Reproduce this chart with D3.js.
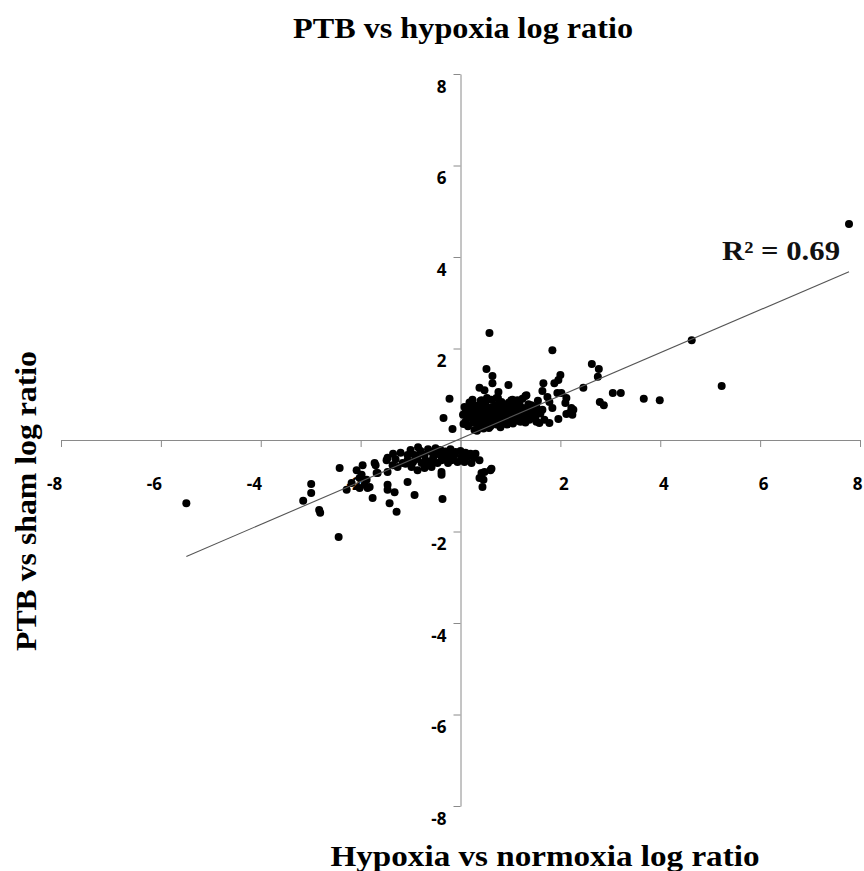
<!DOCTYPE html>
<html>
<head>
<meta charset="utf-8">
<script src="https://cdn.jsdelivr.net/npm/d3@7"></script>
<style>
  html, body { margin: 0; padding: 0; background: #fff; }
  svg { display: block; }
</style>
</head>
<body>
<script>
// ---------------- DATA ----------------
const chartTitle = "PTB vs hypoxia log ratio";
const xTitle = "Hypoxia vs normoxia log ratio";
const yTitle = "PTB vs sham log ratio";
const tickValues = [-8, -6, -4, -2, 0, 2, 4, 6, 8];
const rSquaredLabel = "R\u00B2 = 0.69";
const trendSlope = 0.469;
const trendIntercept = 0.03;

// [hypoxia vs normoxia, PTB vs sham]
const outliers = [
  [7.78, 4.72], [4.63, 2.18], [5.23, 1.18], [3.99, 0.87], [3.67, 0.90],
  [-5.49, -1.38], [0.58, 2.34], [1.84, 1.96], [-2.44, -2.12]
];

const upperSparse = [
  [2.63, 1.66], [2.77, 1.55], [2.75, 1.38], [2.46, 1.14], [3.05, 1.03], [3.21, 1.03],
  [2.79, 0.83], [2.87, 0.76], [0.52, 1.55], [0.64, 1.40], [0.64, 1.24], [0.96, 1.20],
  [0.38, 1.14], [0.48, 1.09], [0.76, 1.05], [-0.22, 0.90], [-0.34, 0.48], [-0.16, 0.24],
  [2.00, 1.42], [1.96, 1.31], [1.66, 1.24], [1.88, 1.24], [1.64, 1.07], [1.94, 1.03],
  [2.02, 1.03], [2.12, 0.92], [2.10, 0.81], [2.22, 0.70], [2.26, 0.66], [2.12, 0.57],
  [1.96, 0.46], [2.24, 0.55], [1.78, 0.83], [1.84, 0.70], [1.64, 0.66], [1.52, 0.72],
  [1.42, 0.76], [1.48, 0.55], [1.68, 0.44], [1.78, 0.37], [1.58, 0.37], [1.38, 0.44],
  [1.74, 0.94], [0.72, 0.92], [0.82, 0.83], [0.42, 0.87], [1.30, 0.96], [1.14, 0.87],
  [1.02, 0.87], [1.32, 0.98], [2.18, 0.59]
];

const upperCluster = [
  [0.05,0.55],[0.08,0.72],[0.10,0.40],[0.12,0.62],[0.15,0.30],[0.18,0.82],[0.20,0.50],
  [0.22,0.68],[0.25,0.38],[0.26,0.58],[0.28,0.22],[0.30,0.75],[0.32,0.45],[0.34,0.64],
  [0.36,0.30],[0.38,0.52],[0.40,0.85],[0.42,0.42],[0.44,0.66],[0.46,0.25],[0.48,0.56],
  [0.50,0.78],[0.52,0.36],[0.54,0.60],[0.55,0.48],[0.58,0.70],[0.60,0.30],[0.62,0.88],
  [0.63,0.52],[0.65,0.40],[0.67,0.64],[0.70,0.76],[0.72,0.34],[0.74,0.55],[0.76,0.45],
  [0.78,0.68],[0.80,0.28],[0.82,0.60],[0.84,0.80],[0.86,0.50],[0.88,0.38],[0.90,0.70],
  [0.92,0.58],[0.95,0.44],[0.97,0.82],[1.00,0.52],[1.02,0.66],[1.05,0.36],[1.08,0.74],
  [1.10,0.55],[1.12,0.46],[1.15,0.62],[1.18,0.80],[1.20,0.40],[1.22,0.58],[1.25,0.70],
  [1.28,0.50],[1.30,0.38],[1.33,0.64],[1.36,0.78],[1.40,0.55],[1.45,0.62],[1.50,0.48],
  [1.55,0.86],[1.60,0.58],[0.06,0.35],[0.14,0.48],[0.24,0.88],[0.33,0.20],[0.40,0.62],
  [0.47,0.40],[0.53,0.92],[0.57,0.26],[0.64,0.72],[0.69,0.46],[0.75,0.92],[0.79,0.52],
  [0.85,0.66],[0.93,0.34],[0.99,0.74],[1.04,0.88],[1.07,0.48],[1.13,0.70],[1.19,0.52],
  [1.24,0.90],[1.27,0.42],[1.35,0.46],[1.42,0.72],[1.48,0.64],[1.52,0.40],[0.10,0.60],
  [0.20,0.70],[0.30,0.55],[0.35,0.40],[0.45,0.50],[0.55,0.65],[0.60,0.42],[0.68,0.58],
  [0.73,0.66],[0.83,0.42],[0.88,0.56],[0.96,0.62],[1.06,0.60],[1.16,0.42],[1.23,0.66],
  [1.32,0.56],[1.38,0.66],[0.27,0.46],[0.16,0.66],[0.43,0.74],[0.62,0.60],[0.78,0.36],
  [0.91,0.48],[1.01,0.40],[1.11,0.84]
];

const lowerCluster = [
  [-1.46,-0.39],[-1.72,-0.50],[-1.66,-0.72],[-1.46,-0.70],[-1.26,-0.59],[-1.16,-0.50],
  [-1.06,-0.33],[-1.06,-0.44],[-0.92,-0.33],[-0.86,-0.39],[-0.72,-0.33],[-0.58,-0.26],
  [-0.52,-0.33],[-0.38,-0.37],[-0.26,-0.33],[-0.12,-0.33],[0.02,-0.37],[0.14,-0.37],
  [0.28,-0.39],[0.38,-0.44],[-0.98,-0.59],[-0.86,-0.66],[-0.72,-0.61],[-0.58,-0.59],
  [-0.46,-0.50],[-0.38,-0.44],[-0.78,-0.50],[-0.66,-0.48],[-0.18,-0.44],[-0.06,-0.48],
  [0.08,-0.48],[0.22,-0.50],[-0.38,-0.70],[-0.38,-0.76],[-1.06,-0.92],[-1.46,-0.98],
  [-1.46,-1.09],[-1.32,-1.14],[-0.92,-1.20],[-0.36,-1.29],[-1.42,-1.38],[0.42,-0.72],
  [0.48,-0.70],[0.62,-0.63],[0.38,-0.83],[0.44,-1.03],
  [-1.20,-0.28],[-1.00,-0.22],[-0.80,-0.24],[-0.65,-0.20],[-0.50,-0.18],[-0.40,-0.22],
  [-0.30,-0.25],[-0.20,-0.20],[-0.10,-0.26],[0.00,-0.24],[0.10,-0.28],[0.20,-0.30],
  [-0.90,-0.42],[-0.70,-0.44],[-0.55,-0.40],[-0.30,-0.42],[-0.15,-0.38],[-1.30,-0.42],
  [-1.10,-0.52],[-0.95,-0.48],[-0.60,-0.52],[-0.25,-0.50],[0.30,-0.30],[-1.35,-0.30],
  [-0.85,-0.16],[-0.45,-0.30]
];

const lowerSparse = [
  [-2.42,-0.61],[-2.08,-0.66],[-1.96,-0.55],[-2.02,-0.83],[-2.18,-0.94],[-2.28,-1.09],
  [-1.88,-0.87],[-1.82,-1.03],[-1.70,-0.55],[-1.68,-0.72],[-1.76,-1.27],[-2.99,-0.96],
  [-2.99,-1.16],[-3.15,-1.33],[-2.83,-1.53],[-2.81,-1.59],[-1.98,-0.76],[-1.48,-0.44],
  [-1.36,-0.55],[-1.92,-0.98],[-2.02,-1.05],[-1.86,-1.05],[-1.28,-1.57],[0.46,-0.87],
  [0.60,-0.66]
];

const allPoints = [].concat(outliers, upperSparse, upperCluster, lowerCluster, lowerSparse);

// ---------------- CHART ----------------
const W = 864, H = 871;
const svg = d3.select("body").append("svg").attr("width", W).attr("height", H);

const x = d3.scaleLinear().domain([-8, 8]).range([61, 860]);
const y = d3.scaleLinear().domain([-8, 8]).range([806, 74]);

const axisColor = "#8a8a8a";
const tickFont = "'Open Sans', 'DejaVu Sans', sans-serif";
const serif = "'Liberation Serif', 'Times New Roman', serif";

// X axis
const xAxis = svg.append("g")
  .attr("transform", `translate(0,${y(0)})`)
  .call(d3.axisBottom(x).tickValues(tickValues).tickSize(7).tickSizeOuter(0)
        .tickFormat(d => d === 0 ? "" : String(d)));
xAxis.select(".domain").attr("stroke", axisColor);
xAxis.selectAll(".tick line").attr("stroke", axisColor);
xAxis.selectAll(".tick text")
  .attr("font-family", tickFont).attr("font-weight", 700).attr("font-size", 17)
  .attr("fill", "#000").attr("y", 38)
  .attr("dx", d => d < 0 ? "-7" : (d === 8 ? "-3" : "3"));

// Y axis
const yAxis = svg.append("g")
  .attr("transform", `translate(${x(0)},0)`)
  .call(d3.axisLeft(y).tickValues(tickValues).tickSize(7).tickSizeOuter(0)
        .tickFormat(d => d === 0 ? "" : String(d)));
yAxis.select(".domain").attr("stroke", axisColor);
yAxis.selectAll(".tick line").attr("stroke", axisColor);
yAxis.selectAll(".tick text")
  .attr("font-family", tickFont).attr("font-weight", 700).attr("font-size", 17)
  .attr("fill", "#000").attr("x", -14).attr("dy", "0.32em")
  .attr("transform", "translate(0,13)");

// Points
svg.append("g").selectAll("circle").data(allPoints).join("circle")
  .attr("cx", d => x(d[0])).attr("cy", d => y(d[1]))
  .attr("r", 4).attr("fill", "#000");

// Trendline across data range
const xMin = d3.min(allPoints, d => d[0]);
const xMax = d3.max(allPoints, d => d[0]);
svg.append("line")
  .attr("x1", x(xMin)).attr("y1", y(trendIntercept + trendSlope * xMin))
  .attr("x2", x(xMax)).attr("y2", y(trendIntercept + trendSlope * xMax))
  .attr("stroke", "#555").attr("stroke-width", 1.1);

// R² label
svg.append("text")
  .attr("x", 722).attr("y", 260)
  .attr("font-family", serif).attr("font-weight", 700).attr("font-size", 27)
  .attr("textLength", 118).attr("lengthAdjust", "spacingAndGlyphs")
  .attr("fill", "#111")
  .text(rSquaredLabel);

// Title
svg.append("text")
  .attr("x", 463).attr("y", 38).attr("text-anchor", "middle")
  .attr("font-family", serif).attr("font-weight", 700).attr("font-size", 29)
  .attr("textLength", 340).attr("lengthAdjust", "spacingAndGlyphs")
  .text(chartTitle);

// X title
svg.append("text")
  .attr("x", 545).attr("y", 866).attr("text-anchor", "middle")
  .attr("font-family", serif).attr("font-weight", 700).attr("font-size", 30)
  .attr("textLength", 429).attr("lengthAdjust", "spacingAndGlyphs")
  .text(xTitle);

// Y title
svg.append("text")
  .attr("transform", `translate(36,501) rotate(-90)`)
  .attr("text-anchor", "middle")
  .attr("font-family", serif).attr("font-weight", 700).attr("font-size", 30)
  .attr("textLength", 300).attr("lengthAdjust", "spacingAndGlyphs")
  .text(yTitle);
</script>
</body>
</html>
